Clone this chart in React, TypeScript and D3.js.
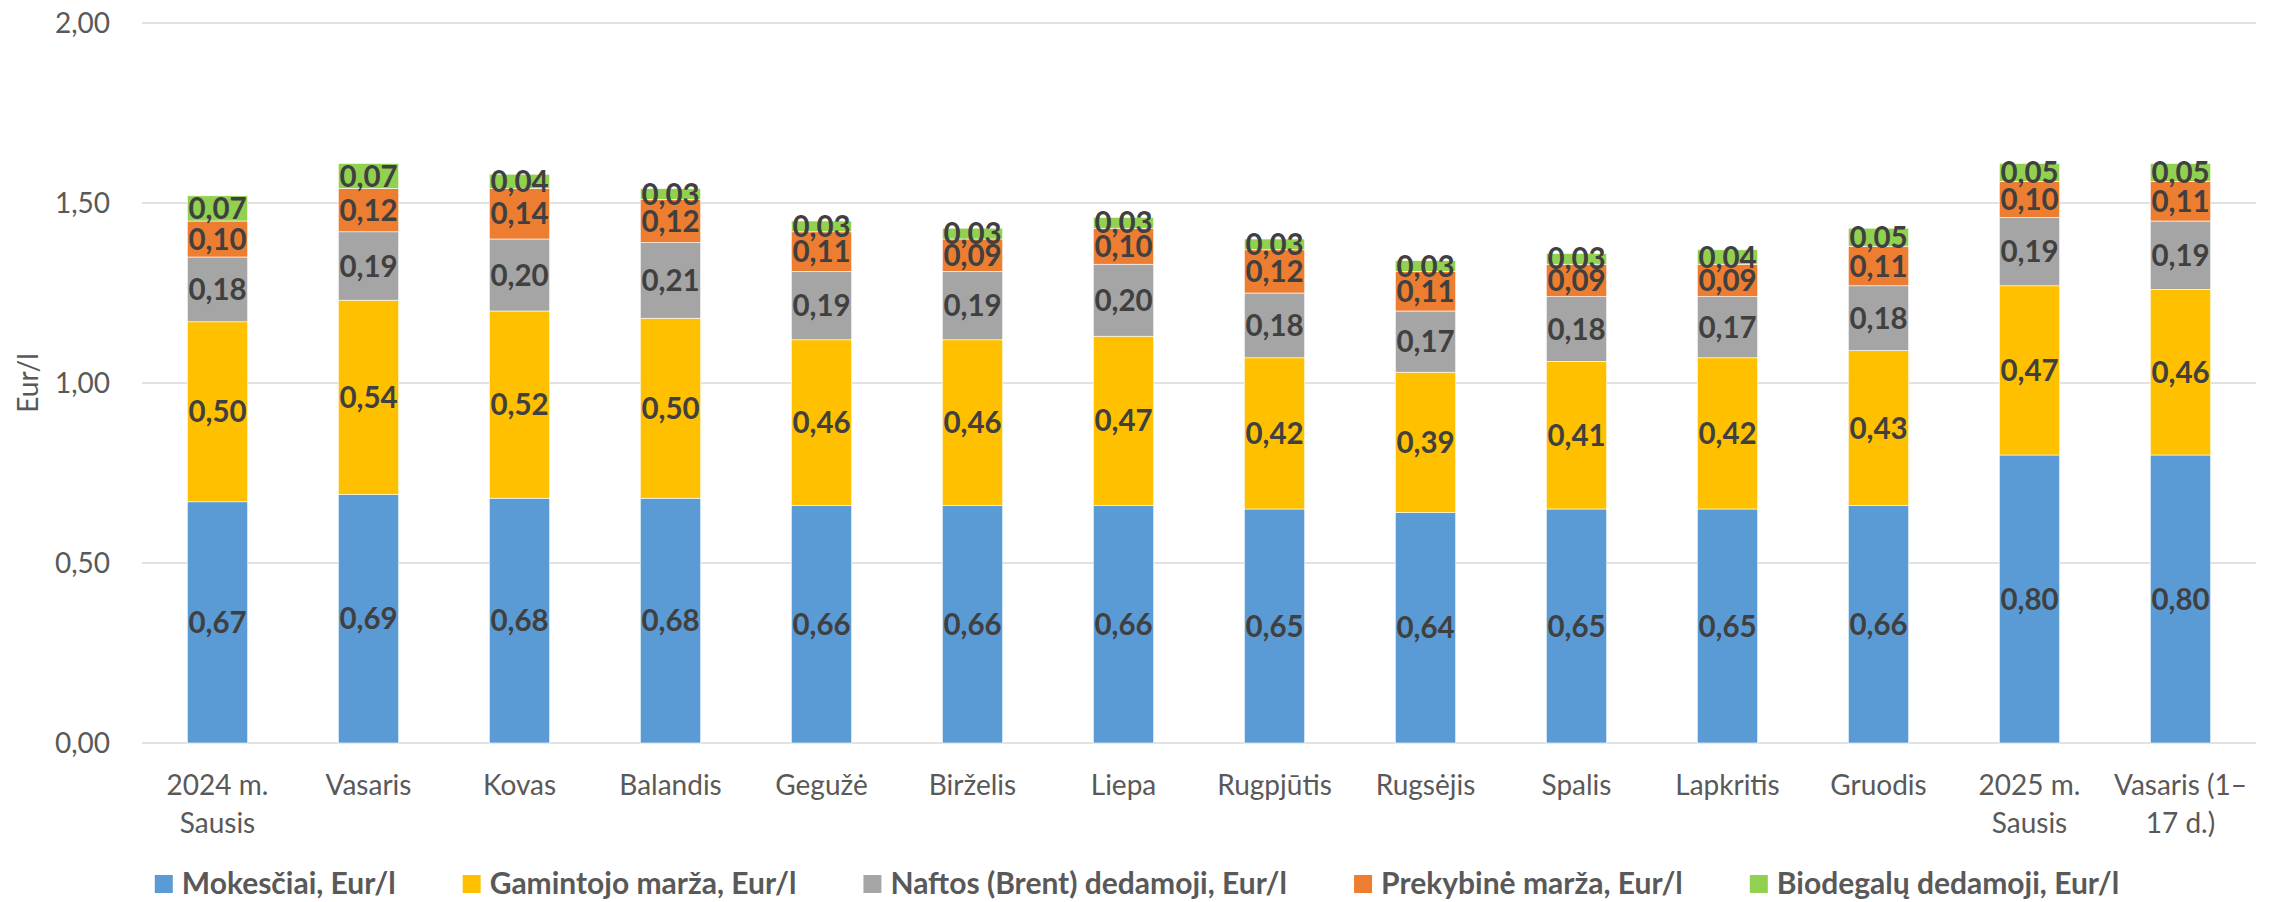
import React, { useEffect, useRef } from 'react'
import * as d3 from 'd3'

const categories = [
  '2024 m.|Sausis', 'Vasaris', 'Kovas', 'Balandis', 'Gegužė', 'Birželis', 'Liepa',
  'Rugpjūtis', 'Rugsėjis', 'Spalis', 'Lapkritis', 'Gruodis', '2025 m.|Sausis', 'Vasaris (1–|17 d.)'
]

const seriesNames = [
  'Mokesčiai, Eur/l',
  'Gamintojo marža, Eur/l',
  'Naftos (Brent) dedamoji, Eur/l',
  'Prekybinė marža, Eur/l',
  'Biodegalų dedamoji, Eur/l'
]

const seriesColors = ['#5B9BD5', '#FFC000', '#A5A5A5', '#ED7D31', '#92D050']

const mokesciai = [0.67, 0.69, 0.68, 0.68, 0.66, 0.66, 0.66, 0.65, 0.64, 0.65, 0.65, 0.66, 0.80, 0.80]
const gamintojo = [0.50, 0.54, 0.52, 0.50, 0.46, 0.46, 0.47, 0.42, 0.39, 0.41, 0.42, 0.43, 0.47, 0.46]
const naftos = [0.18, 0.19, 0.20, 0.21, 0.19, 0.19, 0.20, 0.18, 0.17, 0.18, 0.17, 0.18, 0.19, 0.19]
const prekybine = [0.10, 0.12, 0.14, 0.12, 0.11, 0.09, 0.10, 0.12, 0.11, 0.09, 0.09, 0.11, 0.10, 0.11]
const biodegalu = [0.07, 0.07, 0.04, 0.03, 0.03, 0.03, 0.03, 0.03, 0.03, 0.03, 0.04, 0.05, 0.05, 0.05]

const yTicks = [0, 0.5, 1.0, 1.5, 2.0]

const W = 2274
const H = 902
const FONT = 'Lato, "Noto Sans", sans-serif'

const fmt = (v: number) => v.toFixed(2).replace('.', ',')

const App: React.FC = () => {
  const svgRef = useRef<SVGSVGElement>(null)

  useEffect(() => {
    if (!svgRef.current) return
    const svg = d3.select(svgRef.current)
    svg.selectAll('*').remove()

    const plot = { left: 142, right: 2256, top: 23, bottom: 743 }

    const x = d3.scaleBand<string>()
      .domain(categories)
      .range([plot.left, plot.right])
      .paddingInner(0.6)
      .paddingOuter(0.3)

    const y = d3.scaleLinear()
      .domain([0, 2])
      .range([plot.bottom, plot.top])

    // gridlines
    svg.append('g')
      .selectAll('line')
      .data(yTicks)
      .enter()
      .append('line')
      .attr('x1', plot.left)
      .attr('x2', plot.right)
      .attr('y1', d => y(d))
      .attr('y2', d => y(d))
      .attr('stroke', '#D9D9D9')
      .attr('stroke-width', 1.5)

    // y tick labels
    svg.append('g')
      .selectAll('text')
      .data(yTicks)
      .enter()
      .append('text')
      .attr('x', 110)
      .attr('y', d => y(d) + 10)
      .attr('text-anchor', 'end')
      .style('font-family', FONT)
      .style('font-size', '28px')
      .attr('fill', '#595959')
      .text(d => fmt(d))

    // y title
    svg.append('text')
      .attr('transform', `translate(38,${(plot.top + plot.bottom) / 2}) rotate(-90)`)
      .attr('text-anchor', 'middle')
      .style('font-family', FONT)
      .style('font-size', '28px')
      .attr('fill', '#595959')
      .text('Eur/l')

    // stacked bars
    const series = [mokesciai, gamintojo, naftos, prekybine, biodegalu]
    const rows = categories.map((c, i) => {
      const row: any = { cat: c }
      series.forEach((s, k) => { row[k] = s[i] })
      return row
    })
    const stack = d3.stack<any>().keys(series.map((_, k) => String(k)))
    const stacked = stack(rows)

    const layers = svg.append('g')
      .selectAll('g')
      .data(stacked)
      .enter()
      .append('g')
      .attr('fill', (_, k) => seriesColors[k])

    layers.selectAll('rect')
      .data(d => d)
      .enter()
      .append('rect')
      .attr('x', d => x(d.data.cat) as number)
      .attr('width', x.bandwidth())
      .attr('y', d => y(d[1]))
      .attr('height', d => y(d[0]) - y(d[1]))
      .attr('stroke', '#fff')
      .attr('stroke-width', 0.6)

    // data labels
    const labels = svg.append('g')
    stacked.forEach(layer => {
      layer.forEach(d => {
        const v = d[1] - d[0]
        labels.append('text')
          .attr('x', (x(d.data.cat) as number) + x.bandwidth() / 2)
          .attr('y', (y(d[0]) + y(d[1])) / 2 + 10.5)
          .attr('text-anchor', 'middle')
          .style('font-family', FONT)
          .style('font-size', '29.5px')
          .style('font-weight', 'bold')
          .attr('fill', '#404040')
          .text(fmt(v))
      })
    })

    // category labels
    const cats = svg.append('g')
    categories.forEach(c => {
      const lines = c.split('|')
      const t = cats.append('text')
        .attr('text-anchor', 'middle')
        .style('font-family', FONT)
        .style('font-size', '28px')
        .attr('fill', '#595959')
      lines.forEach((ln, j) => {
        t.append('tspan')
          .attr('x', (x(c) as number) + x.bandwidth() / 2)
          .attr('y', 795 + j * 38)
          .text(ln)
      })
    })

    // legend
    const legend = svg.append('g')
    const items = seriesNames.map((name, k) => {
      const g = legend.append('g')
      g.append('rect')
        .attr('x', 0)
        .attr('y', 875)
        .attr('width', 18)
        .attr('height', 18)
        .attr('fill', seriesColors[k])
      const t = g.append('text')
        .attr('x', 27)
        .attr('y', 894)
        .style('font-family', FONT)
        .style('font-size', '30px')
        .style('font-weight', 'bold')
        .attr('fill', '#595959')
        .text(name)
      const w = 27 + (t.node() as SVGTextElement).getComputedTextLength()
      return { g, w }
    })
    const gap = 67
    const total = d3.sum(items, d => d.w) + gap * (items.length - 1)
    let cx = W / 2 - total / 2
    items.forEach(it => {
      it.g.attr('transform', `translate(${cx},0)`)
      cx += it.w + gap
    })
  }, [])

  return (
    <div style={{ position: 'absolute', left: 0, top: 0, background: '#fff' }}>
      <svg ref={svgRef} width={W} height={H} style={{ display: 'block' }}></svg>
    </div>
  )
}

export default App
